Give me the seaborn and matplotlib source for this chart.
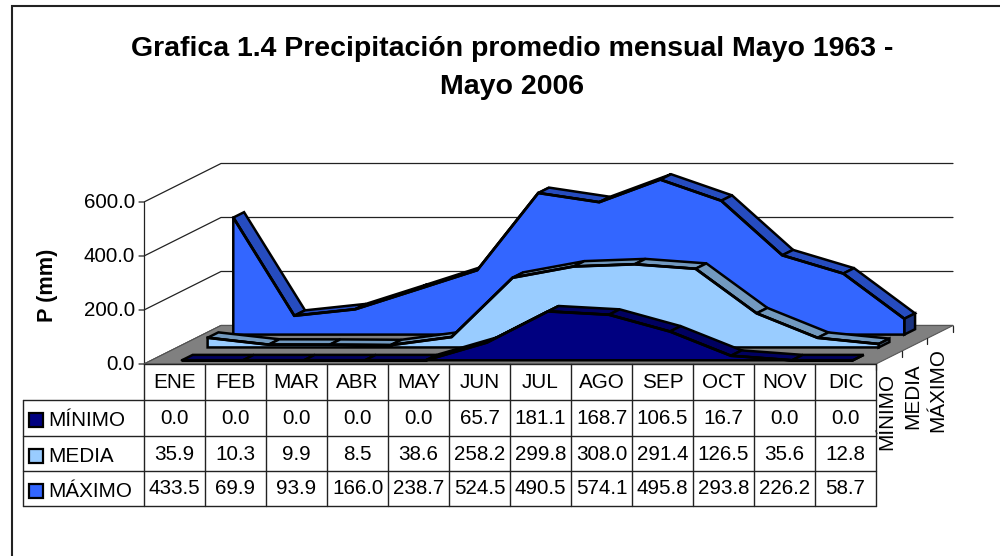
import matplotlib
matplotlib.use("Agg")
import matplotlib.pyplot as plt
import numpy as np
import seaborn as sns
from matplotlib.patches import Polygon, Rectangle

# === Datos ===
meses = ["ENE", "FEB", "MAR", "ABR", "MAY", "JUN", "JUL", "AGO", "SEP", "OCT", "NOV", "DIC"]
series = ["MÍNIMO", "MEDIA", "MÁXIMO"]
minimo = [0.0, 0.0, 0.0, 0.0, 0.0, 65.7, 181.1, 168.7, 106.5, 16.7, 0.0, 0.0]
media = [35.9, 10.3, 9.9, 8.5, 38.6, 258.2, 299.8, 308.0, 291.4, 126.5, 35.6, 12.8]
maximo = [433.5, 69.9, 93.9, 166.0, 238.7, 524.5, 490.5, 574.1, 495.8, 293.8, 226.2, 58.7]
valores = [minimo, media, maximo]
ticks_y = [0, 200, 400, 600]

titulo = "Grafica 1.4 Precipitación promedio mensual Mayo 1963 -\nMayo 2006"

col_frente = ["#000080", "#99CCFF", "#3366FF"]
col_tapa = ["#000060", "#7299BF", "#264CBF"]
col_lado = ["#000040", "#4D6680", "#1A3380"]

# === Geometría del gráfico (pixeles de la imagen) ===
X0, Y0 = 144.0, 364.0   # esquina frontal izquierda
ANCHO_MES = 61.0
ESCALA = 162.0 / 600.0
PROF_X, PROF_Y = 77.0, 38.5
MEDIA_BANDA = 0.07
FS = 14.9

sns.set_theme(style="white")
plt.rcParams["font.family"] = ["Liberation Sans", "DejaVu Sans"]

fig = plt.figure(figsize=(10, 5.56), dpi=100)
ax = fig.add_axes([0, 0, 1, 1])
ax.set_xlim(0, 1000)
ax.set_ylim(556, 0)
ax.axis("off")


def proy(mes, prof, valor):
    """Proyección oblicua: mes (posición), profundidad 0-1 y valor en mm"""
    return (X0 + ANCHO_MES * (mes + 0.5) + PROF_X * prof,
            Y0 - PROF_Y * prof - ESCALA * valor)


def poli(puntos, color, z, lw=1.8):
    ax.add_patch(Polygon(puntos, closed=True, facecolor=color, edgecolor="black",
                         linewidth=lw, joinstyle="miter", zorder=z))


# Marco exterior: solo arriba y a la izquierda
ax.plot([1000, 11.5, 11.5], [5.5, 5.5, 556], color="#222222", lw=1.5, zorder=1,
        solid_joinstyle="miter")

# Suelo
x_ini, x_fin = X0, X0 + ANCHO_MES * len(meses)
suelo = [(x_ini, Y0), (x_fin, Y0), (x_fin + PROF_X, Y0 - PROF_Y), (x_ini + PROF_X, Y0 - PROF_Y)]
ax.add_patch(Polygon(suelo, closed=True, facecolor="#808080", edgecolor="#555555", linewidth=0.8, zorder=2))

# Rejilla y eje de valores
for v in ticks_y:
    y = Y0 - ESCALA * v
    ax.plot([x_ini - 5, x_ini, x_ini + PROF_X, x_fin + PROF_X], [y, y, y - PROF_Y, y - PROF_Y],
            color="#222222", lw=0.9, zorder=1.5)
    ax.text(x_ini - 9, y, f"{v:.1f}", ha="right", va="center", fontsize=FS, color="black")
ax.plot([x_ini, x_ini], [Y0, Y0 - ESCALA * 600], color="#222222", lw=0.9, zorder=1.5)

# Áreas de atrás hacia delante
z = 3
for i in range(2, -1, -1):
    vals = valores[i]
    centro = (i + 0.5) / 3
    p1, p2 = centro - MEDIA_BANDA, centro + MEDIA_BANDA
    n = len(vals)
    # tapa superior, segmento a segmento
    for k in range(n - 1):
        poli([proy(k, p1, vals[k]), proy(k + 1, p1, vals[k + 1]),
              proy(k + 1, p2, vals[k + 1]), proy(k, p2, vals[k])], col_tapa[i], z)
    # cara lateral derecha
    poli([proy(n - 1, p1, 0), proy(n - 1, p1, vals[-1]),
          proy(n - 1, p2, vals[-1]), proy(n - 1, p2, 0)], col_lado[i], z)
    # cara frontal
    frente = [proy(0, p1, 0)] + [proy(k, p1, vals[k]) for k in range(n)] + [proy(n - 1, p1, 0)]
    poli(frente, col_frente[i], z + 0.1)
    borde = np.array([proy(k, p1, vals[k]) for k in range(n)])
    sns.lineplot(x=borde[:, 0], y=borde[:, 1], color="black", lw=2.0, sort=False,
                 estimator=None, ax=ax, zorder=z + 0.2)
    z += 1

# Marcas y etiquetas de profundidad
for i in range(len(series) + 1):
    prof = i / 3
    ax.plot([x_fin + PROF_X * prof, x_fin + PROF_X * prof],
            [Y0 - PROF_Y * prof, Y0 - PROF_Y * prof + 6], color="#222222", lw=0.9, zorder=2)
for nombre, xl, yl in zip(series, [886.5, 913, 938], [373, 363, 348]):
    ax.text(xl, yl, nombre, rotation=90, ha="center", va="top", fontsize=FS, color="black")

# === Tabla de datos ===
filas_y = [364, 400, 436, 471, 506]
x_tabla = X0 + ANCHO_MES * np.arange(len(meses) + 1)
ax.plot([x_tabla[0], x_tabla[-1]], [filas_y[0], filas_y[0]], color="#222222", lw=1.0, zorder=6)
for y in filas_y[1:]:
    ax.plot([23, x_tabla[-1]], [y, y], color="#222222", lw=1.0, zorder=6)
for x in x_tabla:
    ax.plot([x, x], [filas_y[0], filas_y[-1]], color="#222222", lw=1.0, zorder=6)
ax.plot([23, 23], [filas_y[1], filas_y[-1]], color="#222222", lw=1.0, zorder=6)

for k, mes in enumerate(meses):
    ax.text(x_tabla[k] + ANCHO_MES / 2, (filas_y[0] + filas_y[1]) / 2 + 0.5, mes,
            ha="center", va="center", fontsize=FS, color="black")
for i, nombre in enumerate(series):
    yc = (filas_y[i + 1] + filas_y[i + 2]) / 2
    ax.add_patch(Rectangle((29, yc - 5), 14, 14, facecolor=col_frente[i], edgecolor="black", linewidth=1.6, zorder=6))
    ax.text(48, yc + 3, nombre, ha="left", va="center", fontsize=FS, color="black")
    for k, v in enumerate(valores[i]):
        ax.text(x_tabla[k] + ANCHO_MES / 2, yc + 0.5, f"{v:.1f}", ha="center", va="center",
                fontsize=FS, color="black")

# Títulos
ax.text(512, 68, titulo, ha="center", va="center", fontsize=20.5, fontweight="bold",
        color="black", linespacing=1.56)
ax.text(47, 285, "P (mm)", rotation=90, ha="center", va="center", fontsize=15.6,
        fontweight="bold", color="black")

fig.savefig("out.png", dpi=100)
